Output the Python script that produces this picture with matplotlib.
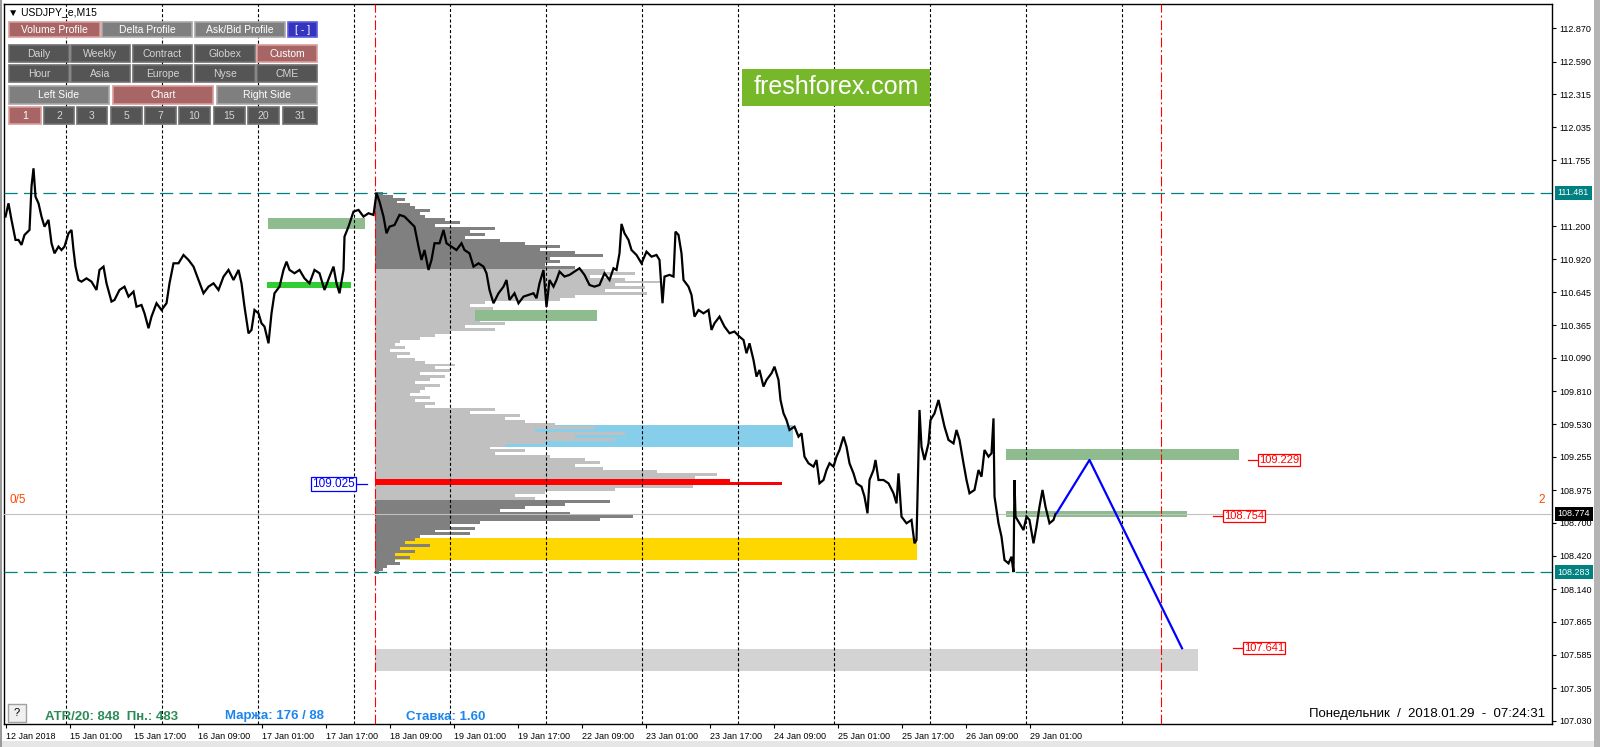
import numpy as np
import matplotlib.pyplot as plt
from matplotlib.patches import Rectangle

plt.rcParams['font.family'] = ['Liberation Sans', 'DejaVu Sans']
plt.rcParams['lines.scale_dashes'] = False

# USDJPY M15 close path, bar 0 = 12 Jan 2018 09:00 (one bar = one pixel column)
price_bar = [0, 3, 6, 10, 13, 16, 19, 24, 26, 28, 30, 33, 36, 39, 43, 46, 49, 53, 56, 59,
             63, 66, 68, 70, 73, 76, 81, 86, 91, 94, 98, 101, 106, 109, 114, 119, 123, 128, 131, 136,
             139, 143, 146, 151, 156, 161, 164, 168, 173, 178, 183, 188, 193, 198, 203, 208, 213, 218, 223, 228,
             233, 236, 239, 243, 246, 249, 253, 256, 259, 263, 266, 269, 274, 278, 281, 284, 289, 294, 299, 304,
             309, 314, 319, 324, 328, 331, 334, 338, 339, 343, 348, 353, 358, 363, 368, 371, 374, 378, 381, 384,
             389, 394, 399, 404, 409, 413, 416, 419, 423, 426, 429, 434, 438, 441, 446, 451, 456, 459, 464, 468,
             473, 478, 481, 484, 488, 493, 498, 501, 504, 509, 513,
             518, 523, 528, 531, 534, 538, 541, 544, 548, 551, 554, 559, 564, 569, 574, 579, 584, 589, 594, 599,
             604, 608, 611, 614, 616, 619, 623, 626, 631, 636, 641, 646, 651, 654, 657, 659, 664, 668, 670, 673,
             676, 678, 683, 686, 689, 693, 698, 703, 706, 709, 714, 719, 724, 729, 734, 738, 741, 744, 748, 751,
             754, 758, 761, 766, 769, 773, 775, 778, 781, 784, 789, 793,
             796, 799, 803, 808, 811, 814, 818, 821, 824, 828, 831, 834, 838, 841, 844, 848, 851, 856, 859, 862,
             864, 868, 870, 873, 878, 883, 888, 891, 893, 896, 901, 906, 909, 911, 913, 914, 916, 919, 923, 925,
             929, 933, 936, 939, 943, 948, 951, 954, 958, 961, 964, 969, 973, 976, 979, 983, 986, 988, 989, 993,
             996, 999, 1003, 1006, 1008, 1009, 1010, 1014, 1018, 1021, 1024, 1028, 1031, 1034, 1037, 1040, 1044, 1048, 1050]
price_val = [111.282, 111.394, 111.254, 111.085, 111.085, 111.043, 111.127, 111.169, 111.535, 111.689,
             111.450, 111.394, 111.282, 111.197, 111.254, 111.057, 110.972, 111.029, 111.000, 111.029,
             111.141, 111.169, 111.000, 110.860, 110.747, 110.733, 110.761, 110.733, 110.663, 110.832,
             110.860, 110.719, 110.565, 110.579, 110.663, 110.691, 110.607, 110.649, 110.522, 110.536,
             110.466, 110.340, 110.438, 110.551, 110.494, 110.551, 110.719, 110.888, 110.888, 110.958,
             110.916, 110.860, 110.747, 110.635, 110.691, 110.719, 110.663, 110.775, 110.832, 110.747,
             110.832, 110.719, 110.522, 110.297, 110.326, 110.494, 110.466, 110.382, 110.354, 110.213,
             110.466, 110.635, 110.691, 110.832, 110.902, 110.832, 110.804, 110.832, 110.761, 110.719,
             110.832, 110.804, 110.663, 110.775, 110.860, 110.719, 110.635, 110.832, 111.113, 111.197,
             111.324, 111.338, 111.282, 111.310, 111.296, 111.481, 111.408, 111.282, 111.141, 111.197,
             111.211, 111.296, 111.282, 111.239, 111.197, 111.029, 110.916, 111.000, 110.832, 110.916,
             111.057, 111.057, 111.169, 111.057, 111.029, 111.000, 111.057, 111.000, 110.972, 110.860,
             110.888, 110.860, 110.804, 110.663, 110.551, 110.635, 110.691, 110.747, 110.579, 110.635, 110.551,
             110.607, 110.621, 110.635, 110.593, 110.719, 110.832, 110.520, 110.747, 110.691, 110.747,
             110.818, 110.776, 110.790, 110.818, 110.846, 110.790, 110.705, 110.691, 110.705, 110.804,
             110.747, 110.846, 110.832, 110.972, 111.220, 111.141, 111.085, 111.000, 110.958, 110.888,
             110.986, 110.944, 110.958, 110.916, 110.551, 110.776, 110.790, 110.776, 111.155, 111.127,
             110.972, 110.747, 110.691, 110.621, 110.438, 110.494, 110.466, 110.494, 110.326, 110.382,
             110.438, 110.354, 110.298, 110.312, 110.269, 110.241, 110.129, 110.213, 110.072, 109.932,
             109.988, 109.848, 109.904, 109.960, 110.016, 109.904, 109.735, 109.623, 109.566, 109.482,
             109.510, 109.426,
             109.454, 109.257, 109.201, 109.173, 109.229, 109.032, 109.060, 109.144, 109.201, 109.173,
             109.257, 109.313, 109.426, 109.341, 109.201, 109.116, 109.032, 109.004, 108.920, 108.779,
             109.060, 109.144, 109.229, 109.060, 109.060, 109.032, 108.948, 108.863, 109.116, 108.751,
             108.695, 108.723, 108.526, 108.554, 109.285, 109.651, 109.341, 109.229, 109.369, 109.566,
             109.622, 109.735, 109.622, 109.510, 109.398, 109.369, 109.482, 109.398, 109.201, 109.060,
             108.948, 108.976, 109.144, 109.088, 109.313, 109.257, 109.285, 109.580, 108.920, 108.695,
             108.582, 108.385, 108.357, 108.413, 108.283, 109.060, 108.751, 108.695, 108.638, 108.751,
             108.723, 108.526, 108.667, 108.835, 108.976, 108.835, 108.695, 108.723, 108.774]

tick_bars = [0, 64, 128, 192, 256, 320, 384, 448, 512, 576, 640, 704, 768, 832, 896, 960, 1024]
tick_text = ['12 Jan 2018', '15 Jan 01:00', '15 Jan 17:00', '16 Jan 09:00', '17 Jan 01:00',
             '17 Jan 17:00', '18 Jan 09:00', '19 Jan 01:00', '19 Jan 17:00', '22 Jan 09:00',
             '23 Jan 01:00', '23 Jan 17:00', '24 Jan 09:00', '25 Jan 01:00', '25 Jan 17:00',
             '26 Jan 09:00', '29 Jan 01:00']
day_bars = [60, 156, 252, 348, 444, 540, 636, 732, 828, 924, 1020, 1116]
session_bars = [369.5, 1155.5]

ytick_vals = [112.870, 112.590, 112.315, 112.035, 111.755, 111.200, 110.920, 110.645, 110.365,
              110.090, 109.810, 109.530, 109.255, 108.975, 108.700, 108.420, 108.140, 107.865,
              107.585, 107.305, 107.030]
hi_level, lo_level, last_price = 111.481, 108.283, 108.774

# volume profile (rows of 0.025 from the top, widths in bars)
vp_top, vp_step, vp_left = 111.48, 0.025, 369.5
vp_width = [8, 18, 30, 22, 35, 40, 55, 45, 50, 70, 85, 60, 120, 95, 110, 90, 125, 150, 185, 165,
            200, 228, 175, 185, 170, 200,
            230, 260, 215, 250, 285, 240, 270, 230, 272, 200, 185, 110, 95, 118, 140, 120, 150, 105,
            130, 90, 120, 75, 60, 45, 25, 20, 30, 15, 35, 22, 40, 50, 80, 60, 75, 45, 70, 55, 40, 65,
            50, 45, 35, 55, 40, 60, 50, 120, 95, 145, 130, 150, 180, 220, 160, 250, 200, 240, 170, 130,
            115, 150, 120, 175, 210, 225, 200, 228, 282, 342, 320, 355, 407, 318, 240, 170, 140, 160,
            235, 190, 150, 125, 195, 258, 225, 105, 75, 100, 60, 95, 45, 40, 30, 55, 25, 40, 20,
            35, 20, 25, 12, 8, 4]
vp_light_rows = (26, 104)
vp_poc_rows = [97, 98]
poc_price = 109.025

# rectangles drawn on the chart
zone_x0 = [262.8, 261.2, 469.5, 470.0, 384.5, 1000.5, 1000.5, 369.5]
zone_x1 = [359.5, 345.2, 591.5, 787.2, 911.2, 1233.5, 1181.5, 1192.5]
zone_lo = [111.177, 110.680, 110.401, 109.341, 108.385, 109.229, 108.751, 107.449]
zone_hi = [111.270, 110.730, 110.494, 109.524, 108.573, 109.322, 108.799, 107.635]
zone_col = ['#8FBC8F', '#32CD32', '#8FBC8F', '#87CEEB', '#FFD700', '#8FBC8F', '#8FBC8F', '#D3D3D3']
zone_z = [3, 3, 3, 1, 1, 3, 3, 1]

# projected path and targets
proj_bar = [1051, 1084, 1176.5]
proj_val = [108.779, 109.229, 107.641]
target_val = [109.229, 108.754, 107.641]
target_bar = [1242.5, 1207.5, 1227.5]

fig = plt.figure(figsize=(16, 7.47), dpi=100)
fig.patch.set_facecolor('white')
ax = fig.add_axes([4 / 1600, 23 / 747, 1548 / 1600, 720 / 747])
ax.set_xlim(-1.5, 1546.5)
ax.set_ylim(107.002, 113.075)

for x0, x1, lo, hi, c, z in zip(zone_x0, zone_x1, zone_lo, zone_hi, zone_col, zone_z):
    ax.add_patch(Rectangle((x0, lo), x1 - x0, hi - lo, fc=c, ec='none', zorder=z))

# volume profile
levels = [vp_top - vp_step * k for k in range(len(vp_width))]
cols = []
for k in range(len(vp_width)):
    if k in vp_poc_rows:
        cols.append('#FF0000')
    elif vp_light_rows[0] <= k < vp_light_rows[1]:
        cols.append('#C0C0C0')
    else:
        cols.append('#808080')
ax.barh(levels, vp_width, height=vp_step, left=vp_left, color=cols, linewidth=0, zorder=2)

for b in day_bars:
    ax.axvline(b, color='black', lw=0.8, ls=(0, (2.2, 1.6)), zorder=4)
for b in session_bars:
    ax.axvline(b, color='red', lw=0.8, ls=(0, (7, 2, 1.5, 2)), zorder=4)

for lv in [hi_level, lo_level]:
    ax.axhline(lv, color='#008080', lw=0.9, ls=(0, (9.5, 4.5)), zorder=4)
ax.axhline(last_price, color='#C0C0C0', lw=0.8, zorder=4)

ax.plot(price_bar, price_val, color='black', lw=1.6, zorder=6, solid_joinstyle='miter')
ax.plot(proj_bar, proj_val, color='#0000FF', lw=1.6, zorder=7)

for b, v in zip(target_bar, target_val):
    ax.plot([b, b + 9], [v, v], color='red', lw=0.9, zorder=7)
    ax.text(b + 11, v, f'{v:.3f}', color='red', fontsize=8, va='center', ha='left', zorder=8,
            bbox=dict(boxstyle='square,pad=0.1', fc='white', ec='red', lw=0.9))

ax.plot([351.5, 361.5], [poc_price, poc_price], color='#0000FF', lw=0.9, zorder=7)
ax.text(349.5, poc_price, f'{poc_price:.3f}', color='#0000FF', fontsize=8.5, va='center', ha='right',
        zorder=8, bbox=dict(boxstyle='square,pad=0.1', fc='white', ec='#0000FF', lw=0.9))

ax.set_xticks(tick_bars)
ax.set_xticklabels(tick_text, fontsize=6.5)
for lab in ax.get_xticklabels():
    lab.set_ha('left')
ax.tick_params(axis='x', length=3, pad=2.5, width=0.8)
ax.yaxis.tick_right()
ax.set_yticks(ytick_vals)
ax.set_yticklabels([f'{v:.3f}' for v in ytick_vals], fontsize=6.5)
ax.tick_params(axis='y', length=3, pad=2, width=0.8)
for s in ax.spines.values():
    s.set_linewidth(1)

for v, face in [(hi_level, '#008080'), (last_price, 'black'), (lo_level, '#008080')]:
    ax.text(1.0037, v, f'{v:.3f}', transform=ax.get_yaxis_transform(), fontsize=6.5, color='white',
            ha='left', va='center', clip_on=False, zorder=10,
            bbox=dict(boxstyle='square,pad=0.3', fc=face, ec='none'))

# overlay in pixel units for the panel widgets
ui = fig.add_axes([0, 0, 1, 1], zorder=5)
ui.set_xlim(0, 1600)
ui.set_ylim(747, 0)
ui.axis('off')
ui.patch.set_visible(False)

ui.add_patch(Rectangle((0, 741), 1600, 6, fc='#E6E6E6', ec='none'))
ui.add_patch(Rectangle((1594, 0), 6, 747, fc='#B4B4B4', ec='none'))
ui.add_patch(Rectangle((0, 0), 2, 747, fc='#9A9A9A', ec='none'))

ui.text(8, 12, '▼ USDJPY_e,M15', fontsize=7.5, va='center', ha='left', color='black')

styles = {'rose': ('#A86565', '#DB9C9C', 'white'),
          'gray': ('#7F7F7F', '#A9A9A9', 'white'),
          'dark': ('#555555', '#707070', '#D4D4D4'),
          'blue': ('#3434BE', '#5C5CE0', 'white')}
buttons = [
    (22, 37, [('Volume Profile', 9, 100, 'rose'), ('Delta Profile', 102, 192, 'gray'),
              ('Ask/Bid Profile', 195, 285, 'gray'), ('[ - ]', 288, 317, 'blue')]),
    (45, 62, [('Daily', 9, 69, 'dark'), ('Weekly', 71, 130, 'dark'), ('Contract', 133, 192, 'dark'),
              ('Globex', 195, 255, 'dark'), ('Custom', 257, 317, 'rose')]),
    (65, 82, [('Hour', 9, 69, 'dark'), ('Asia', 71, 130, 'dark'), ('Europe', 133, 192, 'dark'),
              ('Nyse', 195, 255, 'dark'), ('CME', 257, 317, 'dark')]),
    (86, 104, [('Left Side', 9, 109, 'gray'), ('Chart', 113, 213, 'rose'), ('Right Side', 217, 317, 'gray')]),
    (107, 124, [('1', 9, 41, 'rose'), ('2', 44, 74, 'dark'), ('3', 77, 107, 'dark'), ('5', 111, 142, 'dark'),
                ('7', 145, 176, 'dark'), ('10', 179, 210, 'dark'), ('15', 214, 245, 'dark'),
                ('20', 248, 279, 'dark'), ('31', 283, 317, 'dark')]),
]
for y0, y1, row in buttons:
    for label, x0, x1, st in row:
        fc, ec, tc = styles[st]
        ui.add_patch(Rectangle((x0, y0), x1 - x0, y1 - y0, fc=fc, ec=ec, lw=1.2))
        ui.text((x0 + x1) / 2, (y0 + y1) / 2 + 0.5, label, fontsize=7.5, color=tc,
                ha='center', va='center')

ui.add_patch(Rectangle((742, 69), 188, 37, fc='#76B82A', ec='none'))
ui.text(836, 87.5, 'freshforex.com', fontsize=18, color='white', ha='center', va='center')

ui.text(10, 500, '0/5', fontsize=8.5, color='#FF4500', ha='left', va='center')
ui.text(1542, 500, '2', fontsize=8.5, color='#FF4500', ha='center', va='center')

ui.add_patch(Rectangle((8, 704), 18, 18, fc='#F0F0F0', ec='#A0A0A0', lw=1))
ui.text(17, 713, '?', fontsize=8, color='black', ha='center', va='center')
ui.text(45, 716.5, 'ATR/20: 848  Пн.: 483', fontsize=9.5, fontweight='bold', color='#2E8B57',
        ha='left', va='center')
ui.text(225, 716.5, 'Маржа: 176 / 88', fontsize=9.5, fontweight='bold', color='#1C86EE',
        ha='left', va='center')
ui.text(406, 716.5, 'Ставка: 1.60', fontsize=9.5, fontweight='bold', color='#1C86EE',
        ha='left', va='center')
ui.text(1545, 714, 'Понедельник  /  2018.01.29  -  07:24:31', fontsize=9.5, color='black',
        ha='right', va='center')

fig.savefig('out.png', dpi=100)
